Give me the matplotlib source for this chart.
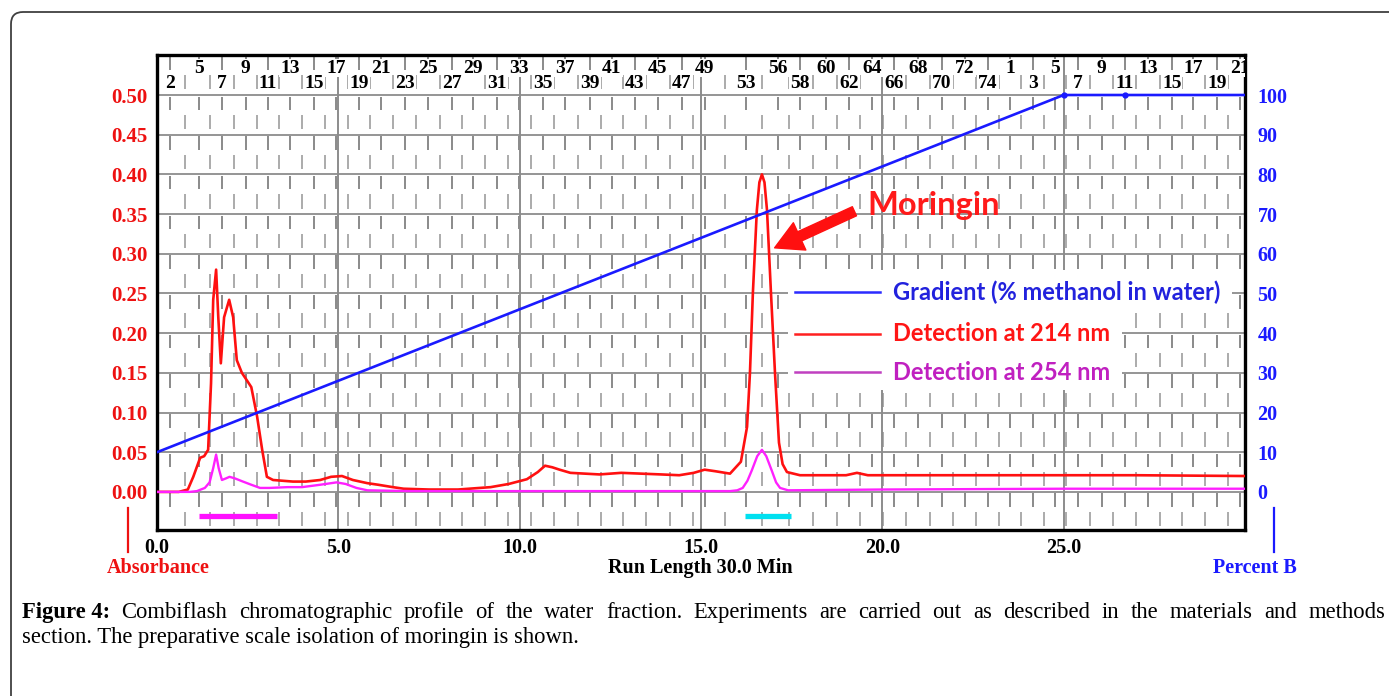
import matplotlib
matplotlib.use('Agg')
import matplotlib.pyplot as plt
import numpy as np
from matplotlib.collections import LineCollection
from matplotlib.patches import FancyBboxPatch, Rectangle, FancyArrowPatch
from matplotlib.transforms import IdentityTransform

# ---------------- data ----------------
red_t = [0, 0.6, 0.85, 1.0, 1.19, 1.3, 1.41, 1.49, 1.55, 1.63, 1.69, 1.76, 1.85, 1.99, 2.1, 2.2,
         2.34, 2.5, 2.6, 2.76, 2.9, 3.03, 3.2, 3.75, 4.1, 4.5, 4.8, 5.1, 5.4, 5.8, 6.1, 6.5, 6.8,
         7.5, 8.3, 9.2, 9.7, 10.2, 10.5, 10.7, 10.9, 11.1, 11.4, 12.2, 12.8, 13.9, 14.4, 14.8,
         15.1, 15.4, 15.8, 16.1, 16.27, 16.35, 16.43, 16.54, 16.61, 16.68, 16.75, 16.82, 16.93,
         17.04, 17.15, 17.25, 17.37, 17.73, 18.5, 19.0, 19.3, 19.6, 21, 23, 25, 27, 30]
red_v = [0.0, 0.0, 0.003, 0.019, 0.043, 0.045, 0.053, 0.137, 0.242, 0.28, 0.22, 0.162, 0.22,
         0.242, 0.22, 0.166, 0.15, 0.139, 0.132, 0.095, 0.053, 0.019, 0.015, 0.013, 0.013, 0.015,
         0.019, 0.020, 0.015, 0.011, 0.009, 0.006, 0.004, 0.003, 0.003, 0.006, 0.010, 0.016,
         0.025, 0.033, 0.031, 0.028, 0.024, 0.022, 0.024, 0.022, 0.021, 0.024, 0.028, 0.026,
         0.023, 0.038, 0.082, 0.15, 0.25, 0.355, 0.39, 0.40, 0.39, 0.355, 0.25, 0.15, 0.062,
         0.035, 0.025, 0.021, 0.021, 0.021, 0.024, 0.021, 0.021, 0.021, 0.021, 0.021, 0.020]

mag_t = [0, 0.9, 1.1, 1.32, 1.45, 1.55, 1.63, 1.7, 1.79, 1.9, 2.0, 2.15, 2.37, 2.6, 2.84, 3.1,
         3.6, 4.0, 4.5, 4.95, 5.2, 5.5, 5.8, 7, 10, 13, 15.8, 16.0, 16.15, 16.28, 16.4, 16.55,
         16.68, 16.8, 16.95, 17.07, 17.18, 17.4, 20, 25, 30]
mag_v = [0, 0, 0.001, 0.005, 0.012, 0.03, 0.047, 0.03, 0.015, 0.017, 0.019, 0.017, 0.013, 0.009,
         0.005, 0.005, 0.006, 0.006, 0.009, 0.012, 0.010, 0.005, 0.002, 0.001, 0.001, 0.001,
         0.001, 0.002, 0.005, 0.014, 0.027, 0.045, 0.053, 0.045, 0.027, 0.012, 0.005, 0.002,
         0.003, 0.004, 0.004]

grad_t = [0, 25, 30]
grad_pct = [10, 100, 100]

tube_labels = ['2', '5', '7', '9', '11', '13', '15', '17', '19', '21', '23', '25', '27', '29',
               '31', '33', '35', '37', '39', '41', '43', '45', '47', '49', '53', '56', '58',
               '60', '62', '64', '66', '68', '70', '72', '74', '1', '3', '5', '7', '9', '11',
               '13', '15', '17', '19', '21']
tube_pos = [0.36, 1.16, 1.79, 2.45, 3.06, 3.67, 4.33, 4.94, 5.57, 6.18, 6.84, 7.47, 8.13, 8.71,
            9.37, 9.98, 10.64, 11.25, 11.94, 12.54, 13.18, 13.81, 14.47, 15.11, 16.24, 17.12,
            17.73, 18.44, 19.08, 19.71, 20.32, 20.98, 21.64, 22.28, 22.91, 23.52, 24.15, 24.76,
            25.39, 26.05, 26.69, 27.32, 27.98, 28.56, 29.23, 29.86]

collect_start = [1.16, 16.21]
collect_end = [3.31, 17.48]
collect_colors = ['#ff10ff', '#00e0f0']

abs_ticks = [0.00, 0.05, 0.10, 0.15, 0.20, 0.25, 0.30, 0.35, 0.40, 0.45, 0.50]
pct_ticks = [0, 10, 20, 30, 40, 50, 60, 70, 80, 90, 100]
time_ticks = [0, 5, 10, 15, 20, 25]

# ---------------- figure ----------------
W, H = 1389, 696
fig = plt.figure(figsize=(W / 100, H / 100), dpi=100)
fig.patch.set_facecolor('white')
SERIF = 'Liberation Serif'
SANS = 'Lato'

ymin, ymax = -0.048, 0.5504
ax = fig.add_axes([157 / W, 1 - 530 / H, (1245 - 157) / W, (530 - 55) / H])
ax.set_xlim(0, 30)
ax.set_ylim(ymin, ymax)

# grid
ax.hlines(abs_ticks, 0, 30, color='#8c8c8c', lw=1.3, zorder=0.6)
ax.vlines(time_ticks[1:], ymin, ymax, color='#8c8c8c', lw=1.4, zorder=0.6)

# fraction-tube dash pattern
mids = [(a + b) / 2 for a, b in zip(tube_pos[:-1], tube_pos[1:])]
dark_segs, light_segs = [], []
band_tops = [ymax] + abs_ticks[::-1]
for g in band_tops:
    for x in tube_pos:
        dark_segs.append([(x, g - 0.002), (x, max(g - 0.019, ymin))])
    for x in mids:
        lo, hi = g - 0.025, g - 0.043
        if lo > ymin:
            light_segs.append([(x, lo), (x, max(hi, ymin))])
ax.add_collection(LineCollection(dark_segs, colors='#8a8a8a', linewidths=1.4, zorder=0.5))
ax.add_collection(LineCollection(light_segs, colors='#ababab', linewidths=1.4, zorder=0.5))

# tube labels
for i, (lab, x) in enumerate(zip(tube_labels, tube_pos)):
    yy = 0.515 if i % 2 == 0 else 0.534
    ax.text(x, yy, lab, ha='center', va='center', fontsize=14, fontweight='bold',
            family=SERIF, color='black', clip_on=True, zorder=3,
            bbox=dict(boxstyle='square,pad=0.05', facecolor='white', edgecolor='none'))

# curves
ax.plot(red_t, red_v, color='#ff1010', lw=1.9, zorder=4)
ax.plot(mag_t, mag_v, color='#ff20ff', lw=1.7, zorder=4)

# collection bars
for s, e, c in zip(collect_start, collect_end, collect_colors):
    ax.hlines(-0.030, s, e, color=c, lw=3.8, zorder=4)

# spines/ticks
for sp in ax.spines.values():
    sp.set_linewidth(2.4)
    sp.set_color('black')
ax.set_yticks(abs_ticks)
ax.set_yticklabels([f'{v:.2f}' for v in abs_ticks])
ax.set_xticks(time_ticks)
ax.set_xticklabels([f'{v:.1f}' for v in time_ticks])
ax.tick_params(axis='y', length=0, pad=7, labelcolor='#ee1111', labelsize=15)
ax.tick_params(axis='x', length=0, pad=6, labelcolor='black', labelsize=14.5)
for lab in ax.get_yticklabels() + ax.get_xticklabels():
    lab.set_fontfamily(SERIF)
    lab.set_fontweight('bold')

ax2 = ax.twinx()
ax2.set_ylim(ymin * 200, ymax * 200)
ax2.set_yticks(pct_ticks)
ax2.set_yticklabels([str(v) for v in pct_ticks])
ax2.tick_params(axis='y', length=0, pad=9, labelcolor='#1a1aff', labelsize=14.5)
for lab in ax2.get_yticklabels():
    lab.set_fontfamily(SERIF)
    lab.set_fontweight('bold')
for sp in ax2.spines.values():
    sp.set_visible(False)
ax2.plot(grad_t, grad_pct, color='#1a1aff', lw=1.9, zorder=4)
ax2.plot([grad_t[1], 26.69], [100, 100], 'o', color='#1a1aff', ms=3.5, zorder=4)

# legend with white backgrounds
ax2.add_patch(Rectangle((17.4, 0.227 * 200), 29.64 - 17.4, (0.280 - 0.227) * 200,
                        facecolor='white', edgecolor='none', zorder=5))
ax2.add_patch(Rectangle((17.4, 0.128 * 200), 26.6 - 17.4, (0.227 - 0.128) * 200,
                        facecolor='white', edgecolor='none', zorder=5))
leg_y = [0.252, 0.199, 0.151]
leg_text = ['Gradient (% methanol in water)', 'Detection at 214 nm', 'Detection at 254 nm']
leg_line_c = ['#2b2bff', '#ff2020', '#c040c0']
leg_text_c = ['#2222dd', '#ff1515', '#c020c0']
for yv, t, lc, tc in zip(leg_y, leg_text, leg_line_c, leg_text_c):
    ax2.plot([17.59, 19.93], [yv * 200, yv * 200], color=lc, lw=1.8, zorder=6)
    ax2.text(20.29, yv * 200, t, color=tc, fontsize=17, fontweight='bold', family=SANS,
             ha='left', va='center', zorder=6)

# Moringin annotation
ax2.text(19.6, 0.349 * 200, 'Moringin', color='#ff1a1a', fontsize=23.5, fontweight='bold',
         family=SANS, ha='left', va='baseline', zorder=6)
arr = FancyArrowPatch((19.30, 0.355 * 200), (16.96, 0.306 * 200),
                      arrowstyle='simple,head_length=1.1,head_width=1.2,tail_width=0.4',
                      mutation_scale=18, color='#ff1010', zorder=6)
ax2.add_patch(arr)

# axis titles
def ftext(px, py, s, **kw):
    return fig.text(px / W, 1 - py / H, s, **kw)

ftext(158, 568, 'Absorbance', ha='center', va='center', color='#ee1111', fontsize=14.5,
      fontweight='bold', family=SERIF)
ftext(700, 568, 'Run Length 30.0 Min', ha='center', va='center', color='black', fontsize=14.5,
      fontweight='bold', family=SERIF)
ftext(1255, 568, 'Percent B', ha='center', va='center', color='#1a1aff', fontsize=14.5,
      fontweight='bold', family=SERIF)
fig.add_artist(plt.Line2D([128 / W, 128 / W], [1 - 508 / H, 1 - 552 / H], color='#ee1111', lw=1.6))
fig.add_artist(plt.Line2D([1274 / W, 1274 / W], [1 - 508 / H, 1 - 552 / H], color='#1a1aff', lw=1.6))

# caption (justified first line)
renderer = fig.canvas.get_renderer()
cap_size = 16.3
line1 = ('Combiflash chromatographic profile of the water fraction. Experiments are carried out '
         'as described in the materials and methods').split()
line2 = 'section. The preparative scale isolation of moringin is shown.'
words = [('Figure 4:', 'bold')] + [(w, 'normal') for w in line1]
widths = []
for w, fw in words:
    t = fig.text(0, 0, w, fontsize=cap_size, family=SERIF, fontweight=fw)
    widths.append(t.get_window_extent(renderer).width)
    t.remove()
x0, x1 = 22, 1385
gap = (x1 - x0 - sum(widths)) / (len(words) - 1)
x = x0
for (w, fw), wd in zip(words, widths):
    ftext(x, 618, w, fontsize=cap_size, family=SERIF, fontweight=fw, va='baseline', ha='left')
    x += wd + gap
ftext(22, 643, line2, fontsize=cap_size, family=SERIF, va='baseline', ha='left')

# page frame
frame = FancyBboxPatch((11, -30), 1420, H - 12 + 30, boxstyle='round,pad=0,rounding_size=12',
                       transform=IdentityTransform(), fill=False, edgecolor='#404040', lw=1.3)
fig.add_artist(frame)

fig.savefig('out.png', dpi=100)
